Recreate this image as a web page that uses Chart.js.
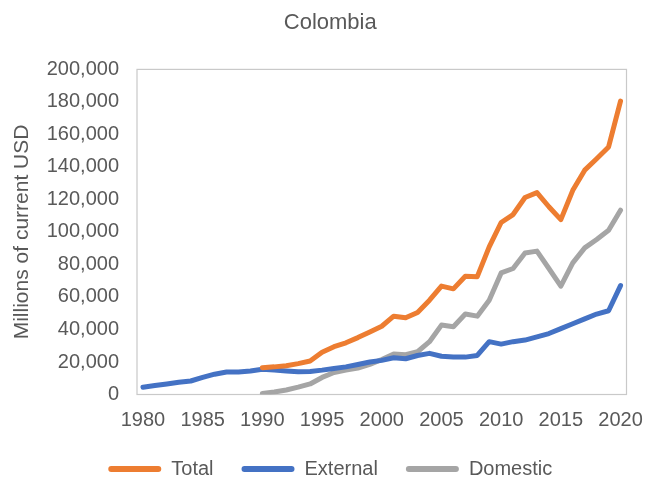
<!DOCTYPE html>
<html lang="en">
<head>
<meta charset="UTF-8">
<title>Colombia</title>
<script src="https://cdn.jsdelivr.net/npm/chart.js"></script>
<style>
  html, body { margin: 0; padding: 0; background: #fff; }
  #wrap { width: 659px; height: 481px; }
</style>
</head>
<body>
<div id="wrap">
  <canvas id="chart1" width="659" height="481"></canvas>
</div>
<script>
// years on the category axis
var years = [];
for (var y = 1980; y <= 2020; y++) years.push(String(y));

// millions of current USD
var total = [null, null, null, null, null, null, null, null, null, null,
  16500, 17000, 17700, 19000, 20600, 26000, 29400, 31800, 35000, 38500,
  42000, 48200, 47200, 50500, 58000, 66700, 65000, 72800, 72500, 90800,
  105800, 110700, 121200, 124200, 115500, 107600, 125600, 138000, 145000, 152300,
  180500];

var external = [4500, 5500, 6500, 7500, 8300, 10500, 12500, 13800, 13800, 14500,
  15500, 15000, 14500, 14000, 14200, 15000, 16000, 17000, 18500, 20000,
  21000, 22600, 22000, 24000, 25300, 23500, 23000, 23000, 24000, 32500,
  31000, 32500, 33500, 35500, 37500, 40500, 43500, 46500, 49500, 51500,
  67000];

var domestic = [null, null, null, null, null, null, null, null, null, null,
  700, 1500, 2800, 4500, 6500, 10500, 13500, 15000, 16300, 18500,
  21500, 24900, 24500, 26300, 32500, 42700, 41700, 49500, 48200, 58000,
  74800, 77500, 87100, 88200, 77500, 66700, 81000, 90200, 95400, 101000,
  113400];

var txt = '#595959';
var fam = '"Liberation Sans", Arial, sans-serif';

// box round the plot area + nudge title/legend to where excel puts them
var plotBox = {
  id: 'plotBox',
  afterLayout: function (chart) {
    var lg = chart.legend;
    lg.top += 8; lg.bottom += 8;
    lg.left += 12; lg.right += 12;
    var tb = chart.titleBlock;
    tb.left += 12; tb.right += 12;
    tb.top += 2; tb.bottom += 2;
    // give the year labels room so they aren't clipped
    chart.scales.x.bottom += 30;
  },
  beforeDatasetsDraw: function (chart) {
    var a = chart.chartArea, c = chart.ctx;
    c.save();
    c.strokeStyle = '#C9C9C9';
    c.lineWidth = 1.2;
    c.strokeRect(a.left, a.top, a.right - a.left, a.bottom - a.top);
    c.restore();
  }
};

function lineSet(label, data, color) {
  return {
    label: label,
    data: data,
    borderColor: color,
    backgroundColor: color,
    borderWidth: 5,
    pointRadius: 0,
    pointHoverRadius: 0,
    tension: 0,
    borderJoinStyle: 'round',
    borderCapStyle: 'round',
    spanGaps: false
  };
}

var ctx = document.getElementById('chart1').getContext('2d');
var myChart = new Chart(ctx, {
  type: 'line',
  data: {
    labels: years,
    datasets: [
      lineSet('Total', total, '#ED7D31'),
      lineSet('External', external, '#4472C4'),
      lineSet('Domestic', domestic, '#A5A5A5')
    ]
  },
  options: {
    responsive: false,
    animation: false,
    layout: { padding: { left: 10, right: 32.5, top: 0, bottom: 0 } },
    plugins: {
      title: {
        display: true,
        text: 'Colombia',
        color: txt,
        font: { family: fam, size: 22, weight: 'normal' },
        padding: { top: 8, bottom: 35 }
      },
      legend: {
        position: 'bottom',
        labels: {
          color: txt,
          font: { family: fam, size: 20 },
          boxWidth: 53,
          boxHeight: 6,
          useBorderRadius: true,
          borderRadius: 3,
          padding: 28,
          generateLabels: function (chart) {
            var items = Chart.defaults.plugins.legend.labels.generateLabels(chart);
            items.forEach(function (it) { it.lineWidth = 0; });
            return items;
          }
        }
      },
      tooltip: { enabled: false }
    },
    scales: {
      x: {
        offset: true,
        grid: { display: false, drawTicks: false },
        border: { display: false },
        ticks: {
          autoSkip: false,
          maxRotation: 0,
          padding: 14,
          color: txt,
          font: { family: fam, size: 20 },
          callback: function (v, i) { return (+years[i]) % 5 === 0 ? years[i] : ''; }
        },
        afterFit: function (s) { s.height = 28.5; }
      },
      y: {
        min: 0,
        max: 200000,
        grid: { display: false, drawTicks: false },
        border: { display: false },
        ticks: {
          stepSize: 20000,
          padding: 18,
          color: txt,
          font: { family: fam, size: 20 },
          callback: function (v) { return v.toLocaleString('en-US'); }
        },
        title: {
          display: true,
          text: 'Millions of current USD',
          color: txt,
          font: { family: fam, size: 21 },
          padding: { top: 0, bottom: 0 }
        },
        afterFit: function (s) { s.width = 127; }
      }
    }
  },
  plugins: [plotBox]
});
</script>
</body>
</html>
